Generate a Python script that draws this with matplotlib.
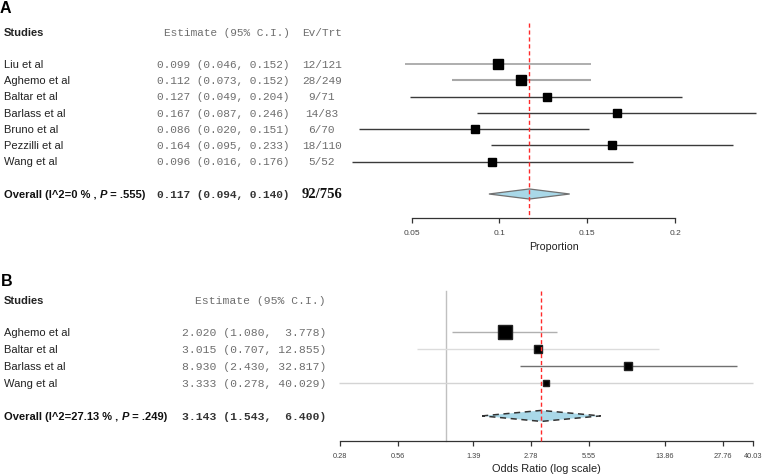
import matplotlib
matplotlib.use("Agg")
import matplotlib.pyplot as plt
from matplotlib.transforms import blended_transform_factory
import numpy as np

# ---------------- data ----------------
a_studies = ["Liu et al", "Aghemo et al", "Baltar et al", "Barlass et al",
             "Bruno et al", "Pezzilli et al", "Wang et al"]
a_est = [0.099, 0.112, 0.127, 0.167, 0.086, 0.164, 0.096]
a_lo = [0.046, 0.073, 0.049, 0.087, 0.020, 0.095, 0.016]
a_hi = [0.152, 0.152, 0.204, 0.246, 0.151, 0.233, 0.176]
a_events = [12, 28, 9, 14, 6, 18, 5]
a_total = [121, 249, 71, 83, 70, 110, 52]
a_overall = (0.117, 0.094, 0.140)
a_overall_events = (92, 756)
a_i2, a_p = "0", ".555"
a_ticks = [0.05, 0.1, 0.15, 0.2]
a_ticklabels = ["0.05", "0.1", "0.15", "0.2"]

b_studies = ["Aghemo et al", "Baltar et al", "Barlass et al", "Wang et al"]
b_est = [2.020, 3.015, 8.930, 3.333]
b_lo = [1.080, 0.707, 2.430, 0.278]
b_hi = [3.778, 12.855, 32.817, 40.029]
b_overall = (3.143, 1.543, 6.400)
b_i2, b_p = "27.13", ".249"
b_ticks = [0.28, 0.56, 1.39, 2.78, 5.55, 13.86, 27.76, 40.03]
b_ticklabels = ["0.28", "0.56", "1.39", "2.78", "5.55", "13.86", "27.76", "40.03"]

# ---------------- styles ----------------
a_sizes = [6.7, 7.2, 5.3, 5.3, 6.0, 5.5, 5.7]
a_lcol = ["#a8a8a8", "#a8a8a8", "#3a3a3a", "#3a3a3a", "#3a3a3a", "#3a3a3a", "#3a3a3a"]
a_lw = [1.3, 1.5, 1.0, 1.0, 1.0, 1.0, 1.0]
b_sizes = [10.0, 6.3, 6.0, 5.0]
b_lcol = ["#b0b0b0", "#dcdcdc", "#707070", "#d4d4d4"]

SANS = "Liberation Sans"
MONO = "Liberation Mono"
SERIF = "Liberation Serif"
MONO_COL = "#6e6e6e"
RED = "#ff2a2a"

W, H = 765, 477
fig = plt.figure(figsize=(W / 100, H / 100), dpi=100)
renderer = fig.canvas.get_renderer()


def px(x):
    return x / W


def seq_text(ax, x0, y, pieces, tr, **kw):
    x = x0
    for s, extra in pieces:
        d = dict(kw)
        d.update(extra)
        t = ax.text(x, y, s, transform=tr, **d)
        bb = t.get_window_extent(renderer)
        x = ax.transAxes.inverted().transform((bb.x1, bb.y0))[0]


# ================= Panel A =================
axA = fig.add_axes([0, 1 - 260 / H, 1, 260 / H])
axA.set_ylim(12, -4)
sA = 1755.6
axA.set_xlim(0.05 - 411.7 / sA, 0.05 + (W - 411.7) / sA)
trA = blended_transform_factory(axA.transAxes, axA.transData)

for sp in ["top", "right", "left"]:
    axA.spines[sp].set_visible(False)
axA.spines["bottom"].set_position(("data", 9.48))
axA.spines["bottom"].set_bounds(a_ticks[0], a_ticks[-1])
axA.spines["bottom"].set_color("#333333")
axA.spines["bottom"].set_linewidth(0.9)
axA.set_yticks([])
axA.set_xticks(a_ticks)
axA.set_xticklabels(a_ticklabels, fontfamily=SANS, fontsize=6.0, color="#444444")
axA.tick_params(axis="x", length=3.6, width=0.9, color="#333333", pad=4.5)
axA.patch.set_visible(False)

rows = np.arange(len(a_studies))
for i in rows:
    axA.plot([a_lo[i], a_hi[i]], [i, i], color=a_lcol[i], lw=a_lw[i],
             solid_capstyle="butt", clip_on=False, zorder=2)
    axA.plot(a_est[i], i, marker="s", ms=a_sizes[i], color="black",
             mec="black", clip_on=False, zorder=3)

orow = 8
e, l, u = a_overall
axA.fill([l, e, u, e], [orow, orow - 0.31, orow, orow + 0.31],
         facecolor="#a9d8e8", edgecolor="#707070", lw=0.9, zorder=2)
axA.plot([e, e], [-2.52, 9.48], color=RED, lw=1.0, ls=(0, (3, 2)), zorder=4)

axA.text(px(0), -3.5, "A", transform=trA, fontfamily=SANS, fontweight="bold",
         fontsize=11.5, va="center", ha="left")
axA.text(px(4), -1.94, "Studies", transform=trA, fontfamily=SANS,
         fontweight="bold", fontsize=8, va="center", ha="left", color="#222222")
axA.text(px(289.5), -1.94, "Estimate (95% C.I.)", transform=trA, fontfamily=MONO,
         fontsize=8, va="center", ha="right", color=MONO_COL)
axA.text(px(302), -1.94, "Ev/Trt", transform=trA, fontfamily=MONO,
         fontsize=8, va="center", ha="left", color=MONO_COL)
for i in rows:
    axA.text(px(4), i, a_studies[i], transform=trA, fontfamily=SANS, fontsize=8,
             va="center", ha="left", color="#222222")
    axA.text(px(289.5), i, f"{a_est[i]:.3f} ({a_lo[i]:.3f}, {a_hi[i]:.3f})",
             transform=trA, fontfamily=MONO, fontsize=8, va="center", ha="right",
             color=MONO_COL)
    axA.text(px(321.8), i, f"{a_events[i]}/{a_total[i]}", transform=trA,
             fontfamily=MONO, fontsize=8, va="center", ha="center", color=MONO_COL)

seq_text(axA, px(4), orow,
         [(f"Overall (I^2={a_i2} % , ", {}), ("P", {"fontstyle": "italic"}),
          (f" = {a_p})", {})],
         trA, fontfamily=SANS, fontweight="bold", fontsize=8, va="center",
         ha="left", color="#111111")
axA.text(px(289.5), orow, f"{e:.3f} ({l:.3f}, {u:.3f})", transform=trA,
         fontfamily=MONO, fontweight="bold", fontsize=8, va="center", ha="right",
         color="#333333")
axA.text(px(322), orow, f"{a_overall_events[0]}/{a_overall_events[1]}",
         transform=trA, fontfamily=SERIF, fontweight="bold", fontsize=10.5,
         va="center", ha="center", color="#111111")
axA.text(px(554), 11.2, "Proportion", transform=trA, fontfamily=SANS,
         fontsize=7.7, va="center", ha="center", color="#222222")

# ================= Panel B =================
axB = fig.add_axes([0, 0, 1, 217 / H])
axB.set_ylim(8.6, -4.4)
axB.set_xscale("log")
sB = 83.28
x0 = np.log(0.28)
axB.set_xlim(np.exp(x0 - 340 / sB), np.exp(x0 + (W - 340) / sB))
trB = blended_transform_factory(axB.transAxes, axB.transData)

for sp in ["top", "right", "left"]:
    axB.spines[sp].set_visible(False)
axB.spines["bottom"].set_position(("data", 6.5))
axB.spines["bottom"].set_bounds(b_ticks[0], b_ticks[-1])
axB.spines["bottom"].set_color("#333333")
axB.spines["bottom"].set_linewidth(0.9)
axB.set_yticks([])
axB.minorticks_off()
axB.set_xticks(b_ticks)
axB.set_xticklabels(b_ticklabels, fontfamily=SANS, fontsize=5.3, color="#444444")
axB.xaxis.set_minor_locator(matplotlib.ticker.NullLocator())
axB.tick_params(axis="x", length=3.6, width=0.9, color="#333333", pad=4.5)
axB.patch.set_visible(False)

rowsB = np.arange(len(b_studies))
axB.plot([1, 1], [-2.48, 6.5], color="#c0c0c0", lw=1.0, zorder=1)
for i in rowsB:
    axB.plot([b_lo[i], b_hi[i]], [i, i], color=b_lcol[i], lw=1.0,
             solid_capstyle="butt", clip_on=False, zorder=2)
    axB.plot(b_est[i], i, marker="s", ms=b_sizes[i], color="black",
             mec="#222222", clip_on=False, zorder=3)

orowB = 5
e, l, u = b_overall
axB.fill([l, e, u, e], [orowB, orowB - 0.33, orowB, orowB + 0.33],
         facecolor="#a9d8e8", edgecolor="#333333", lw=1.1, ls=(0, (4, 3)), zorder=2)
axB.plot([e, e], [-2.48, 6.5], color=RED, lw=1.0, ls=(0, (3, 2)), zorder=4)

axB.text(px(1), -3.14, "B", transform=trB, fontfamily=SANS, fontweight="bold",
         fontsize=11.5, va="center", ha="left")
axB.text(px(4), -1.96, "Studies", transform=trB, fontfamily=SANS,
         fontweight="bold", fontsize=8, va="center", ha="left", color="#222222")
axB.text(px(326), -1.96, "Estimate (95% C.I.)", transform=trB, fontfamily=MONO,
         fontsize=8.2, va="center", ha="right", color=MONO_COL)
for i in rowsB:
    axB.text(px(4), i, b_studies[i], transform=trB, fontfamily=SANS, fontsize=8,
             va="center", ha="left", color="#222222")
    axB.text(px(326), i, f"{b_est[i]:.3f} ({b_lo[i]:.3f}, {b_hi[i]:6.3f})",
             transform=trB, fontfamily=MONO, fontsize=8.2, va="center", ha="right",
             color=MONO_COL)

seq_text(axB, px(4), orowB,
         [(f"Overall (I^2={b_i2} % , ", {}), ("P", {"fontstyle": "italic"}),
          (f" = {b_p})", {})],
         trB, fontfamily=SANS, fontweight="bold", fontsize=8, va="center",
         ha="left", color="#111111")
axB.text(px(326), orowB, f"{e:.3f} ({l:.3f}, {u:6.3f})", transform=trB,
         fontfamily=MONO, fontweight="bold", fontsize=8.2, va="center", ha="right",
         color="#333333")
axB.text(px(546), 8.14, "Odds Ratio (log scale)", transform=trB, fontfamily=SANS,
         fontsize=7.9, va="center", ha="center", color="#222222")

fig.savefig("out.png", dpi=100)
